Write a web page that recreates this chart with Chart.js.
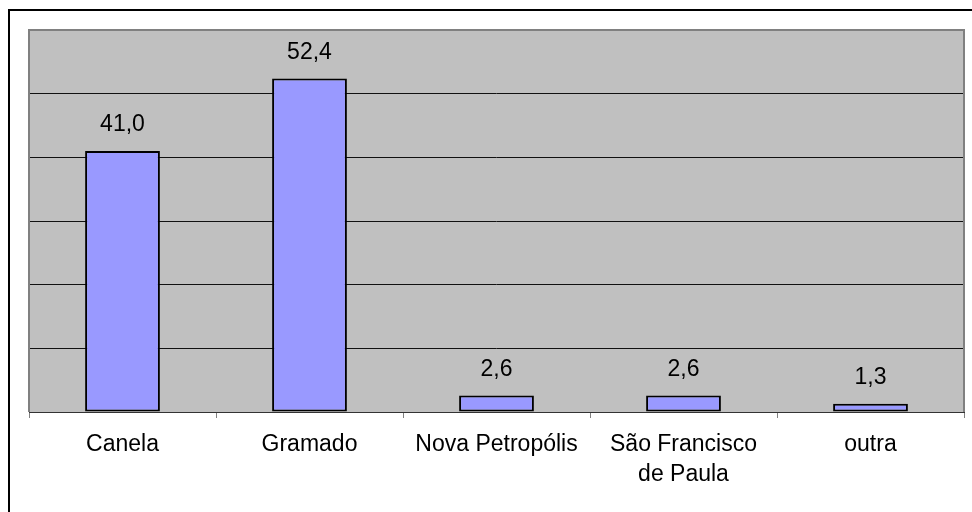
<!DOCTYPE html>
<html lang="pt">
<head>
<meta charset="UTF-8">
<title>Cidades</title>
<script src="https://cdn.jsdelivr.net/npm/chart.js@4.4.1/dist/chart.umd.min.js"></script>
<style>
  html, body { margin: 0; padding: 0; background: #fff; }
  #wrap { width: 972px; height: 512px; }
</style>
</head>
<body>
<div id="wrap"><canvas id="chart" width="972" height="512"></canvas></div>
<script>
const categories = ['Canela', 'Gramado', 'Nova Petropólis', ['São Francisco', 'de Paula'], 'outra'];
const values = [41.0, 52.4, 2.6, 2.6, 1.3];
const yMax = 60;
const yStep = 10;

const FONT = '"Liberation Sans", Arial, sans-serif';

// grey plot area, outer frame and grey plot border
const frame = {
  id: 'frame',
  beforeDraw(chart) {
    const c = chart.ctx, a = chart.chartArea;
    c.save();
    c.fillStyle = '#fff';
    c.fillRect(0, 0, chart.width, chart.height);
    c.strokeStyle = '#000';
    c.lineWidth = 2;
    c.strokeRect(9, 10, 1000, 1000);
    c.fillStyle = '#c0c0c0';
    c.fillRect(a.left, a.top, a.right - a.left, a.bottom - a.top);
    c.restore();
  },
  beforeDatasetsDraw(chart) {
    const c = chart.ctx, a = chart.chartArea;
    c.save();
    c.strokeStyle = '#808080';
    c.lineWidth = 2;
    c.beginPath();
    c.moveTo(a.left, a.bottom);
    c.lineTo(a.left, a.top);
    c.lineTo(a.right, a.top);
    c.lineTo(a.right, a.bottom);
    c.stroke();
    c.restore();
  },
  afterDatasetsDraw(chart) {
    const c = chart.ctx;
    c.save();
    c.fillStyle = '#000';
    c.font = '23px ' + FONT;
    c.textAlign = 'center';
    c.textBaseline = 'middle';
    chart.getDatasetMeta(0).data.forEach((bar, i) => {
      c.fillText(values[i].toFixed(1).replace('.', ','), bar.x, bar.y - 26);
    });
    c.restore();
  }
};

new Chart(document.getElementById('chart'), {
  type: 'bar',
  data: {
    labels: categories,
    datasets: [{
      data: values,
      backgroundColor: '#9999ff',
      borderColor: '#000',
      borderWidth: 2,
      borderSkipped: false,
      barPercentage: 0.4,
      categoryPercentage: 1
    }]
  },
  options: {
    responsive: false,
    animation: false,
    layout: { padding: { left: 29, top: 30, right: 8, bottom: 0 } },
    plugins: { legend: { display: false }, tooltip: { enabled: false } },
    scales: {
      x: {
        grid: { drawOnChartArea: false, drawTicks: true, tickLength: 6, color: '#808080', offset: true },
        border: { display: true, color: '#333', width: 1 },
        ticks: { color: '#000', font: { family: FONT, size: 23, lineHeight: 1.3 }, padding: 12, maxRotation: 0, autoSkip: false },
        afterFit(s) { s.height = 100; }
      },
      y: {
        min: 0,
        max: yMax,
        ticks: { display: false, stepSize: yStep },
        grid: { color: '#111', lineWidth: 1, drawTicks: false },
        border: { display: false }
      }
    }
  },
  plugins: [frame]
});
</script>
</body>
</html>
